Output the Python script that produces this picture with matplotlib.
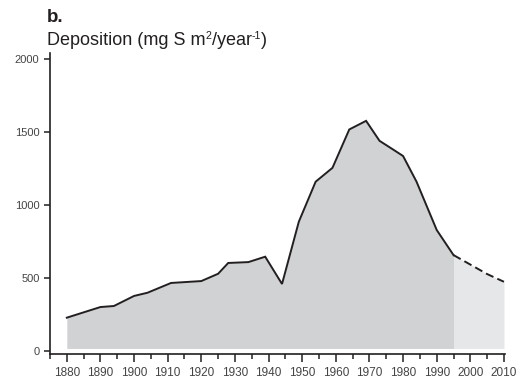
import matplotlib
matplotlib.use("Agg")
import matplotlib.pyplot as plt
from matplotlib.ticker import MultipleLocator

# Sulphur deposition, measured record
years = [1880, 1890, 1894, 1900, 1904, 1911, 1920, 1925, 1928, 1934, 1939, 1944,
         1949, 1954, 1959, 1964, 1969, 1973, 1977, 1980, 1984, 1990, 1995]
deposition = [226, 299, 306, 375, 397, 464, 477, 527, 601, 607, 644, 457,
              884, 1158, 1253, 1516, 1575, 1438, 1379, 1334, 1158, 827, 655]

# Projected deposition
proj_years = [1995, 2000, 2005, 2010]
proj_values = [655, 590, 525, 472]

fill_base = 15
x_ticks = list(range(1880, 2011, 10))
y_ticks = [0, 500, 1000, 1500, 2000]

W, H = 530, 380
fig = plt.figure(figsize=(W / 100, H / 100), dpi=100)
ax = fig.add_axes([0.0943, 0.0676, 0.8585, 0.7929])

line_col = '#231f20'
ax.fill_between(years, fill_base, deposition, color='#d1d2d4', linewidth=0)
ax.fill_between(proj_years, fill_base, proj_values, color='#e6e7e8', linewidth=0)
ax.plot(years, deposition, color=line_col, lw=1.4, solid_joinstyle='miter')
ax.plot(proj_years, proj_values, color=line_col, lw=1.4, linestyle=(0, (4.2, 2.2)))

ax.set_xlim(1875, 2010.3)
ax.set_ylim(-25, 2040)
ax.set_xticks(x_ticks)
ax.xaxis.set_minor_locator(MultipleLocator(5))
ax.set_yticks(y_ticks)

for s in ['top', 'right']:
    ax.spines[s].set_visible(False)
for s in ['left', 'bottom']:
    ax.spines[s].set_linewidth(1.2)
    ax.spines[s].set_color(line_col)

ax.tick_params(axis='x', which='major', length=5.5, width=1.1, color=line_col,
               pad=3.5, labelsize=8.5, labelcolor='#444444')
ax.tick_params(axis='x', which='minor', length=3.5, width=1.1, color=line_col)
ax.tick_params(axis='y', which='major', length=4.5, width=1.1, color=line_col,
               pad=3, labelsize=8, labelcolor='#444444')
for lab in ax.get_xticklabels() + ax.get_yticklabels():
    lab.set_family('Liberation Sans')

fig.text(47 / W, 1 - 22 / H, 'b.', fontsize=13.5, fontweight='bold',
         family='Liberation Sans', color=line_col, va='baseline', ha='left')

# Axis title assembled from pieces so the superscripts stay small
base_size = 13
sup_size = base_size * 0.58
sup_raise = 5.6  # pixels above the baseline
pieces = [('Deposition (mg S m', False), ('2', True), ('/year', False),
          ('-1', True), (')', False)]
renderer = fig.canvas.get_renderer()
x_px = 47.0
y_px = H - 45.0
for txt, sup in pieces:
    t = fig.text(x_px / W, (y_px + (sup_raise if sup else 0)) / H, txt,
                 fontsize=sup_size if sup else base_size,
                 family='Liberation Sans', color=line_col,
                 va='baseline', ha='left')
    x_px = t.get_window_extent(renderer).x1 + (0.3 if sup else 0)

fig.savefig('out.png', dpi=100)
